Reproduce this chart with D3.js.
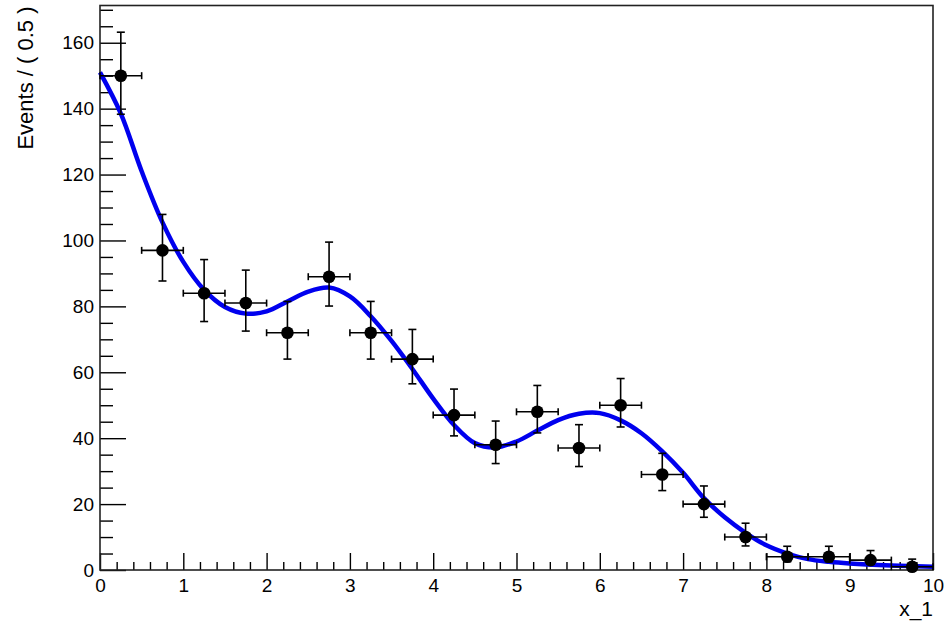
<!DOCTYPE html>
<html>
<head>
<meta charset="utf-8">
<script src="https://cdn.jsdelivr.net/npm/d3@7"></script>
<style>
  body { margin: 0; background: #fff; }
  text { font-family: "Liberation Sans", Arial, sans-serif; fill: #000; }
</style>
</head>
<body>
<script>
// bin centres and counts (bin width 0.5)
var binCenters = [0.25, 0.75, 1.25, 1.75, 2.25, 2.75, 3.25, 3.75, 4.25, 4.75,
                  5.25, 5.75, 6.25, 6.75, 7.25, 7.75, 8.25, 8.75, 9.25, 9.75];
var counts = [150, 97, 84, 81, 72, 89, 72, 64, 47, 38,
              48, 37, 50, 29, 20, 10, 4, 4, 3, 1];
// asymmetric error bars
var errLow  = [11.7, 9.3, 8.6, 8.5, 8.0, 8.9, 8.0, 7.5, 6.3, 5.7,
               6.4, 5.6, 6.6, 4.9, 4.0, 2.7, 1.5, 1.5, 1.3, 0.8];
var errHigh = [13.2, 10.9, 10.2, 10.0, 9.5, 10.5, 9.5, 9.0, 7.9, 7.2,
               8.0, 7.1, 8.1, 6.4, 5.5, 4.2, 3.2, 3.2, 2.9, 2.3];

// fitted curve
var curveX = [0, 0.25, 0.5, 0.75, 1.0, 1.25, 1.5, 1.75, 2.0, 2.25, 2.5, 2.75, 3.0,
              3.25, 3.5, 3.75, 4.0, 4.25, 4.5, 4.75, 5.0, 5.25, 5.5, 5.75, 6.0,
              6.25, 6.5, 6.75, 7.0, 7.25, 7.5, 7.75, 8.0, 8.25, 8.5, 8.75, 9.0, 9.5, 10];
var curveY = [151, 138.5, 121, 105.5, 93.5, 85, 79.8, 77.8, 78.5, 81.5, 84.5, 85.7, 83,
              77, 69.5, 61, 52, 44, 38.5, 37.2, 39, 42.3, 45.5, 47.4, 47.6,
              45.4, 41.5, 36, 29.5, 21.8, 16, 11.3, 7.5, 5, 3.3, 2.5, 2, 1.4, 1.0];

var yMajor = [0, 20, 40, 60, 80, 100, 120, 140, 160];
var xMajor = [0, 1, 2, 3, 4, 5, 6, 7, 8, 9, 10];

window.onload = function () {
    var w = 948, h = 624;
    var padL = 100, padR = 933, padT = 5.5, padB = 570;
    var binHalf = 0.25;

    var svg = d3.select("body").append("svg")
        .attr("width", w)
        .attr("height", h)
        .style("background", "#fff");

    var x = d3.scaleLinear().domain([0, 10]).range([padL, padR]);
    var y = d3.scaleLinear().domain([0, 171.3]).range([padB, padT]);

    //minor ticks
    var yMinor = d3.range(0, 171, 5).filter(function (v) { return v % 20 !== 0; });
    var xMinor = d3.range(0, 10.01, 0.2).filter(function (v) {
        return Math.abs(v - Math.round(v)) > 1e-6;
    });

    svg.append("g")
        .attr("transform", "translate(" + padL + ",0)")
        .call(d3.axisLeft(y).tickValues(yMinor).tickSize(-13).tickFormat(""))
        .call(function (g) { g.select(".domain").remove(); });

    svg.append("g")
        .attr("transform", "translate(0," + padB + ")")
        .call(d3.axisBottom(x).tickValues(xMinor).tickSize(-8).tickFormat(""))
        .call(function (g) { g.select(".domain").remove(); });

    //major ticks with labels
    var yAxis = svg.append("g")
        .attr("transform", "translate(" + padL + ",0)")
        .call(d3.axisLeft(y).tickValues(yMajor).tickSize(-26).tickPadding(6)
            .tickFormat(d3.format("d")));
    yAxis.select(".domain").remove();

    var xAxis = svg.append("g")
        .attr("transform", "translate(0," + padB + ")")
        .call(d3.axisBottom(x).tickValues(xMajor).tickSize(-17).tickPadding(9)
            .tickFormat(d3.format("d")));
    xAxis.select(".domain").remove();

    svg.selectAll(".tick line").attr("stroke", "#000").attr("stroke-width", 1.4);
    svg.selectAll("g").attr("font-size", null).attr("font-family", null);
    svg.selectAll(".tick text")
        .style("font-size", "19px")
        .attr("fill", "#000");

    //frame
    svg.append("rect")
        .attr("x", padL)
        .attr("y", padT)
        .attr("width", padR - padL)
        .attr("height", padB - padT)
        .attr("fill", "none")
        .attr("stroke", "#222")
        .attr("stroke-width", 1.6);

    //axis titles
    svg.append("text")
        .attr("text-anchor", "end")
        .attr("transform", "translate(33," + (padT + 1) + ") rotate(-90)")
        .style("font-size", "22px")
        .text("Events / ( 0.5 )");

    svg.append("text")
        .attr("text-anchor", "end")
        .attr("x", padR)
        .attr("y", 616)
        .style("font-size", "21px")
        .text("x_1");

    //fit curve
    var pts = curveX.map(function (v, i) { return [v, curveY[i]]; });
    var line = d3.line()
        .x(function (d) { return x(d[0]); })
        .y(function (d) { return y(d[1]); })
        .curve(d3.curveCatmullRom.alpha(0.5));

    svg.append("path")
        .datum(pts)
        .attr("d", line)
        .attr("fill", "none")
        .attr("stroke", "#0000ee")
        .attr("stroke-width", 4.5);

    //data points with error bars
    var data = binCenters.map(function (c, i) {
        return { x: c, n: counts[i], lo: errLow[i], hi: errHigh[i] };
    });

    var pt = svg.selectAll(".pt")
        .data(data)
        .enter()
        .append("g")
        .attr("class", "pt")
        .attr("stroke", "#000")
        .attr("stroke-width", 1.6);

    //horizontal bar
    pt.append("line")
        .attr("x1", function (d) { return x(d.x - binHalf); })
        .attr("x2", function (d) { return x(d.x + binHalf); })
        .attr("y1", function (d) { return y(d.n); })
        .attr("y2", function (d) { return y(d.n); });
    //vertical bar
    pt.append("line")
        .attr("x1", function (d) { return x(d.x); })
        .attr("x2", function (d) { return x(d.x); })
        .attr("y1", function (d) { return y(d.n - d.lo); })
        .attr("y2", function (d) { return y(d.n + d.hi); });
    //caps
    [-1, 1].forEach(function (s) {
        pt.append("line")
            .attr("x1", function (d) { return x(d.x + s * binHalf); })
            .attr("x2", function (d) { return x(d.x + s * binHalf); })
            .attr("y1", function (d) { return y(d.n) - 3.5; })
            .attr("y2", function (d) { return y(d.n) + 3.5; });
    });
    pt.append("line")
        .attr("x1", function (d) { return x(d.x) - 4; })
        .attr("x2", function (d) { return x(d.x) + 4; })
        .attr("y1", function (d) { return y(d.n + d.hi); })
        .attr("y2", function (d) { return y(d.n + d.hi); });
    pt.append("line")
        .attr("x1", function (d) { return x(d.x) - 4; })
        .attr("x2", function (d) { return x(d.x) + 4; })
        .attr("y1", function (d) { return y(d.n - d.lo); })
        .attr("y2", function (d) { return y(d.n - d.lo); });

    pt.append("circle")
        .attr("cx", function (d) { return x(d.x); })
        .attr("cy", function (d) { return y(d.n); })
        .attr("r", 6.3)
        .attr("fill", "#000")
        .attr("stroke", "none");
};
</script>
</body>
</html>
